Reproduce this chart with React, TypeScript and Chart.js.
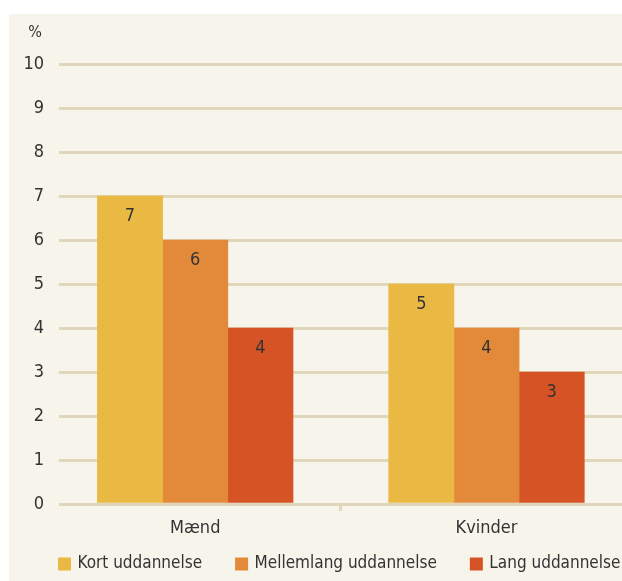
import { useEffect, useRef } from 'react';
import { Chart, registerables } from 'chart.js';

Chart.register(...registerables);

// Data
const groups = ['Mænd', 'Kvinder'];
const seriesNames = ['Kort uddannelse', 'Mellemlang uddannelse', 'Lang uddannelse'];
const kortValues = [7, 5];
const mellemlangValues = [6, 4];
const langValues = [4, 3];
const yTickValues = [0, 1, 2, 3, 4, 5, 6, 7, 8, 9, 10];
const unitLabel = '%';

// Styling
const FONT = "'DejaVu Sans Condensed', 'DejaVu Sans', sans-serif";
const BG = '#F7F4EB';
const GRID = '#E0D6BA';
const TEXT = '#333333';
const COLORS = ['#EAB944', '#E2893A', '#D55325'];

const seriesValues = [kortValues, mellemlangValues, langValues];

// Value printed inside the top of each bar
const valueLabels = {
  id: 'valueLabels',
  afterDatasetsDraw(chart: any) {
    const { ctx } = chart;
    ctx.save();
    ctx.font = `18px ${FONT}`;
    ctx.fillStyle = TEXT;
    ctx.textAlign = 'center';
    ctx.textBaseline = 'middle';
    chart.data.datasets.forEach((ds: any, di: number) => {
      const meta = chart.getDatasetMeta(di);
      meta.data.forEach((bar: any, i: number) => {
        ctx.fillText(String(ds.data[i].y), bar.x, bar.y + 20);
      });
    });
    ctx.restore();
  },
};

// Unit shown above the value axis
const unitMark = {
  id: 'unitMark',
  afterDraw(chart: any) {
    const { ctx } = chart;
    ctx.save();
    ctx.font = `16px ${FONT}`;
    ctx.fillStyle = TEXT;
    ctx.textAlign = 'right';
    ctx.textBaseline = 'middle';
    ctx.fillText(unitLabel, chart.chartArea.left - 17, chart.chartArea.top - 31);
    ctx.restore();
  },
};

// Legend row along the bottom, starting at the plot's left edge
const bottomLegend = {
  id: 'bottomLegend',
  afterDraw(chart: any) {
    const { ctx } = chart;
    ctx.save();
    ctx.font = `17px ${FONT}`;
    ctx.textAlign = 'left';
    ctx.textBaseline = 'middle';
    let x = chart.chartArea.left - 1;
    const yc = chart.height - 17;
    chart.data.datasets.forEach((ds: any) => {
      ctx.fillStyle = ds.backgroundColor;
      ctx.fillRect(x, yc - 6.5, 13, 13);
      x += 19.5;
      ctx.fillStyle = TEXT;
      ctx.fillText(ds.label, x, yc);
      x += ctx.measureText(ds.label).width + 33;
    });
    ctx.restore();
  },
};

export default function App() {
  const canvasRef = useRef<HTMLCanvasElement>(null);

  useEffect(() => {
    const canvas = canvasRef.current;
    if (!canvas) return;

    const chart = new Chart(canvas, {
      type: 'bar',
      data: {
        datasets: seriesNames.map((name, si) => ({
          label: name,
          data: seriesValues[si].map((y, i) => ({ x: i, y })),
          backgroundColor: COLORS[si],
          borderWidth: 0,
          barThickness: 65.2,
        })),
      },
      options: {
        animation: false,
        responsive: false,
        maintainAspectRatio: false,
        devicePixelRatio: 1,
        layout: { padding: { top: 50, left: 0, right: 0, bottom: 0 } },
        plugins: {
          legend: { display: false },
          tooltip: { enabled: false },
        },
        scales: {
          x: {
            type: 'linear',
            offset: false,
            min: -0.4676,
            max: 1.4652,
            afterBuildTicks: (scale: any) => {
              const mid = (groups.length - 1) / 2;
              scale.ticks = [0, mid, 1].map((value) => ({ value }));
            },
            afterFit: (scale: any) => {
              scale.height = 77;
            },
            border: { display: false },
            grid: {
              offset: false,
              drawOnChartArea: false,
              drawTicks: true,
              tickLength: 7,
              lineWidth: 3,
              color: (c: any) =>
                c.tick && !Number.isInteger(c.tick.value) ? GRID : 'rgba(0,0,0,0)',
            },
            ticks: {
              padding: 7,
              maxRotation: 0,
              autoSkip: false,
              color: TEXT,
              font: { family: FONT, size: 18 },
              callback: (v: any) => groups[v as number] ?? '',
            },
          },
          y: {
            min: 0,
            max: 10,
            afterBuildTicks: (scale: any) => {
              scale.ticks = yTickValues.map((value) => ({ value }));
            },
            afterFit: (scale: any) => {
              scale.width = 50;
            },
            border: { display: false },
            grid: { color: GRID, lineWidth: 3, drawTicks: false },
            ticks: {
              padding: 15,
              color: TEXT,
              font: { family: FONT, size: 18 },
            },
          },
        },
      },
      plugins: [valueLabels, unitMark, bottomLegend],
    } as any);

    return () => chart.destroy();
  }, []);

  return (
    <div
      style={{
        position: 'fixed',
        left: 9,
        top: 14,
        width: 613,
        height: 567,
        background: BG,
        overflow: 'hidden',
      }}
    >
      <canvas ref={canvasRef} width={613} height={567} style={{ display: 'block' }} />
    </div>
  );
}
